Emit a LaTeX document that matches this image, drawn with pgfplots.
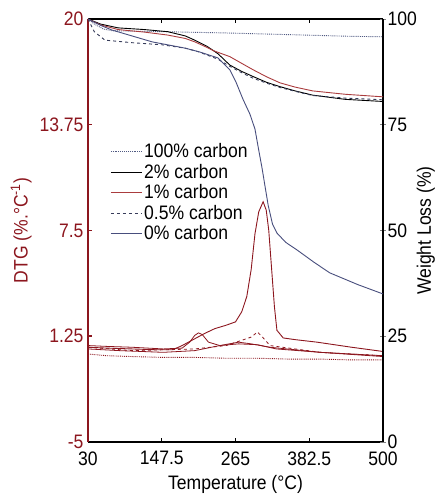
\documentclass[border=0pt]{standalone}
\usepackage{fontspec}
\setmainfont{Liberation Sans}[FakeStretch=0.9]
\usepackage{pgfplots}
\pgfplotsset{compat=1.18}
\definecolor{dtgred}{RGB}{140,22,30}
\definecolor{tgred}{RGB}{170,60,62}
\definecolor{tgblue}{RGB}{72,78,125}
\definecolor{tgdot}{RGB}{80,90,130}
\definecolor{tgdash}{RGB}{55,60,90}
\newcommand{\tf}{\fontsize{19.5}{23}\selectfont}
\begin{document}
\begin{tikzpicture}
\path[use as bounding box] (-88pt,-55pt) rectangle (347pt,442pt);
\begin{axis}[
  scale only axis, width=295pt, height=423pt,
  xmin=30, xmax=500, ymin=-5, ymax=20,
  axis x line*=box, axis y line*=left,
  xtick={30,147.5,265,382.5,500},
  ytick={-5,1.25,7.5,13.75,20},
  xticklabels={30,147.5,265,382.5,500},
  yticklabels={-5,1.25,7.5,13.75,20},
  tick align=inside,
  major tick length=4pt,
  x axis line style={line width=1.3pt},
  y axis line style={dtgred, line width=2.6pt},
  ytick style={dtgred, line width=1.5pt},
  xtick style={black, line width=0.8pt},
  yticklabel style={dtgred, xshift=-1pt},
  xticklabel style={yshift=-6pt},
  ticklabel style={font=\tf},
  xlabel={Temperature (°C)},
  ylabel={DTG (\%.°C\textsuperscript{-1})},
  label style={font=\tf},
  xlabel style={yshift=-3pt},
  ylabel style={dtgred, yshift=1pt},
  /pgf/number format/assume math mode=true,
]
% 100% carbon DTG
\addplot[dtgred, densely dotted, line width=0.9pt] coordinates {
(30,0.2)(60,0.1)(100,0.05)(150,0.0)(200,0.0)(250,-0.05)(300,-0.05)(350,-0.1)(400,-0.1)(450,-0.15)(500,-0.15)};
% 2% carbon DTG
\addplot[dtgred, line width=0.8pt] coordinates {
(30,0.7)(60,0.65)(100,0.6)(150,0.5)(180,0.55)(192,0.9)(200,1.3)(206,1.45)(212,1.35)(222,0.9)(240,0.7)(270,0.8)(300,0.75)(330,0.5)(400,0.3)(500,0.1)};
% 1% carbon DTG
\addplot[dtgred, line width=0.8pt] coordinates {
(30,0.5)(80,0.4)(150,0.3)(200,0.4)(240,0.7)(270,0.9)(290,0.8)(320,0.6)(400,0.3)(500,0.05)};
% 0.5% carbon DTG
\addplot[dtgred, dashed, line width=0.8pt] coordinates {
(30,0.6)(100,0.4)(200,0.5)(250,0.7)(290,1.2)(300,1.5)(308,1.2)(320,0.7)(400,0.3)(500,0.1)};
% 0% carbon DTG
\addplot[dtgred, line width=0.9pt] coordinates {
(30,0.6)(60,0.55)(100,0.5)(140,0.45)(165,0.45)(180,0.7)(200,1.1)(215,1.4)(232,1.7)(250,1.9)(265,2.1)(275,2.7)(283,3.6)(290,5.2)(296,7.3)(302,8.6)(309,9.2)(314,8.7)(318,7.5)(323,5.0)(327,3.0)(331,1.6)(341,1.15)(360,1.05)(395,0.9)(450,0.6)(500,0.35)};
\end{axis}
\begin{axis}[
  scale only axis, width=295pt, height=423pt,
  xmin=30, xmax=500, ymin=0, ymax=100,
  axis x line=none, axis y line*=right,
  ytick={0,25,50,75,100},
  tick align=center,
  major tick length=6pt,
  y axis line style={line width=1.3pt},
  ytick style={line width=0.8pt},
  yticklabel style={xshift=-2pt},
  ticklabel style={font=\tf},
  ylabel={Weight Loss (\%)},
  ylabel near ticks,
  label style={font=\tf},
  ylabel style={yshift=7pt},
  /pgf/number format/assume math mode=true,
  legend style={at={(0.075,0.71)}, anchor=north west, draw=none, fill=none,
    font=\tf, row sep=0.8pt, inner sep=0pt, cells={anchor=west}},
  legend cell align=left,
  legend image code/.code={\draw[#1] plot coordinates {(0pt,0pt) (31pt,0pt)};},
]
\addplot[tgdot, densely dotted, line width=0.9pt] coordinates {
(30,100)(40,98.8)(55,97.6)(70,97.2)(150,97.0)(250,96.7)(350,96.3)(450,95.9)(500,95.8)};
\addlegendentry{100\% carbon}
\addplot[black, line width=0.9pt] coordinates {
(30,100)(50,98.8)(78,97.9)(120,97.5)(157,97)(185,96)(200,95)(220,93.5)(237,91.8)(256,89.1)(275,87.6)(293,86.4)(315,85)(336,84)(360,83)(388,82)(440,81)(500,80.5)};
\addlegendentry{2\% carbon}
\addplot[tgred, line width=0.9pt] coordinates {
(30,100)(50,98.6)(78,97.5)(120,96.9)(157,96.2)(185,95.4)(200,94.6)(215,93.6)(230,92.5)(256,91.1)(275,89.5)(293,88)(315,86.3)(336,84.9)(360,83.9)(388,83)(440,82.2)(500,81.6)};
\addlegendentry{1\% carbon}
\addplot[tgdash, dashed, line width=0.9pt] coordinates {
(30,100)(40,97)(57,95)(100,94.4)(148,93.9)(185,93.1)(205,92.3)(237,90.5)(256,88.8)(275,87.3)(293,86)(315,84.8)(336,83.8)(360,82.9)(388,81.9)(440,81.3)(500,80.9)};
\addlegendentry{0.5\% carbon}
\addplot[tgblue, line width=0.9pt] coordinates {
(30,100)(50,98.5)(68,97.4)(100,96)(132,94.6)(185,93.1)(208,92.2)(237,90.8)(256,88)(266,85)(277,81)(288,77.5)(296,74)(302,69)(307,65)(312,60.5)(317,56)(324,51.5)(331,49.4)(345,47.2)(363,45.4)(390,42.5)(415,40)(460,37.2)(500,35)};
\addlegendentry{0\% carbon}
\end{axis}
\end{tikzpicture}
\end{document}
